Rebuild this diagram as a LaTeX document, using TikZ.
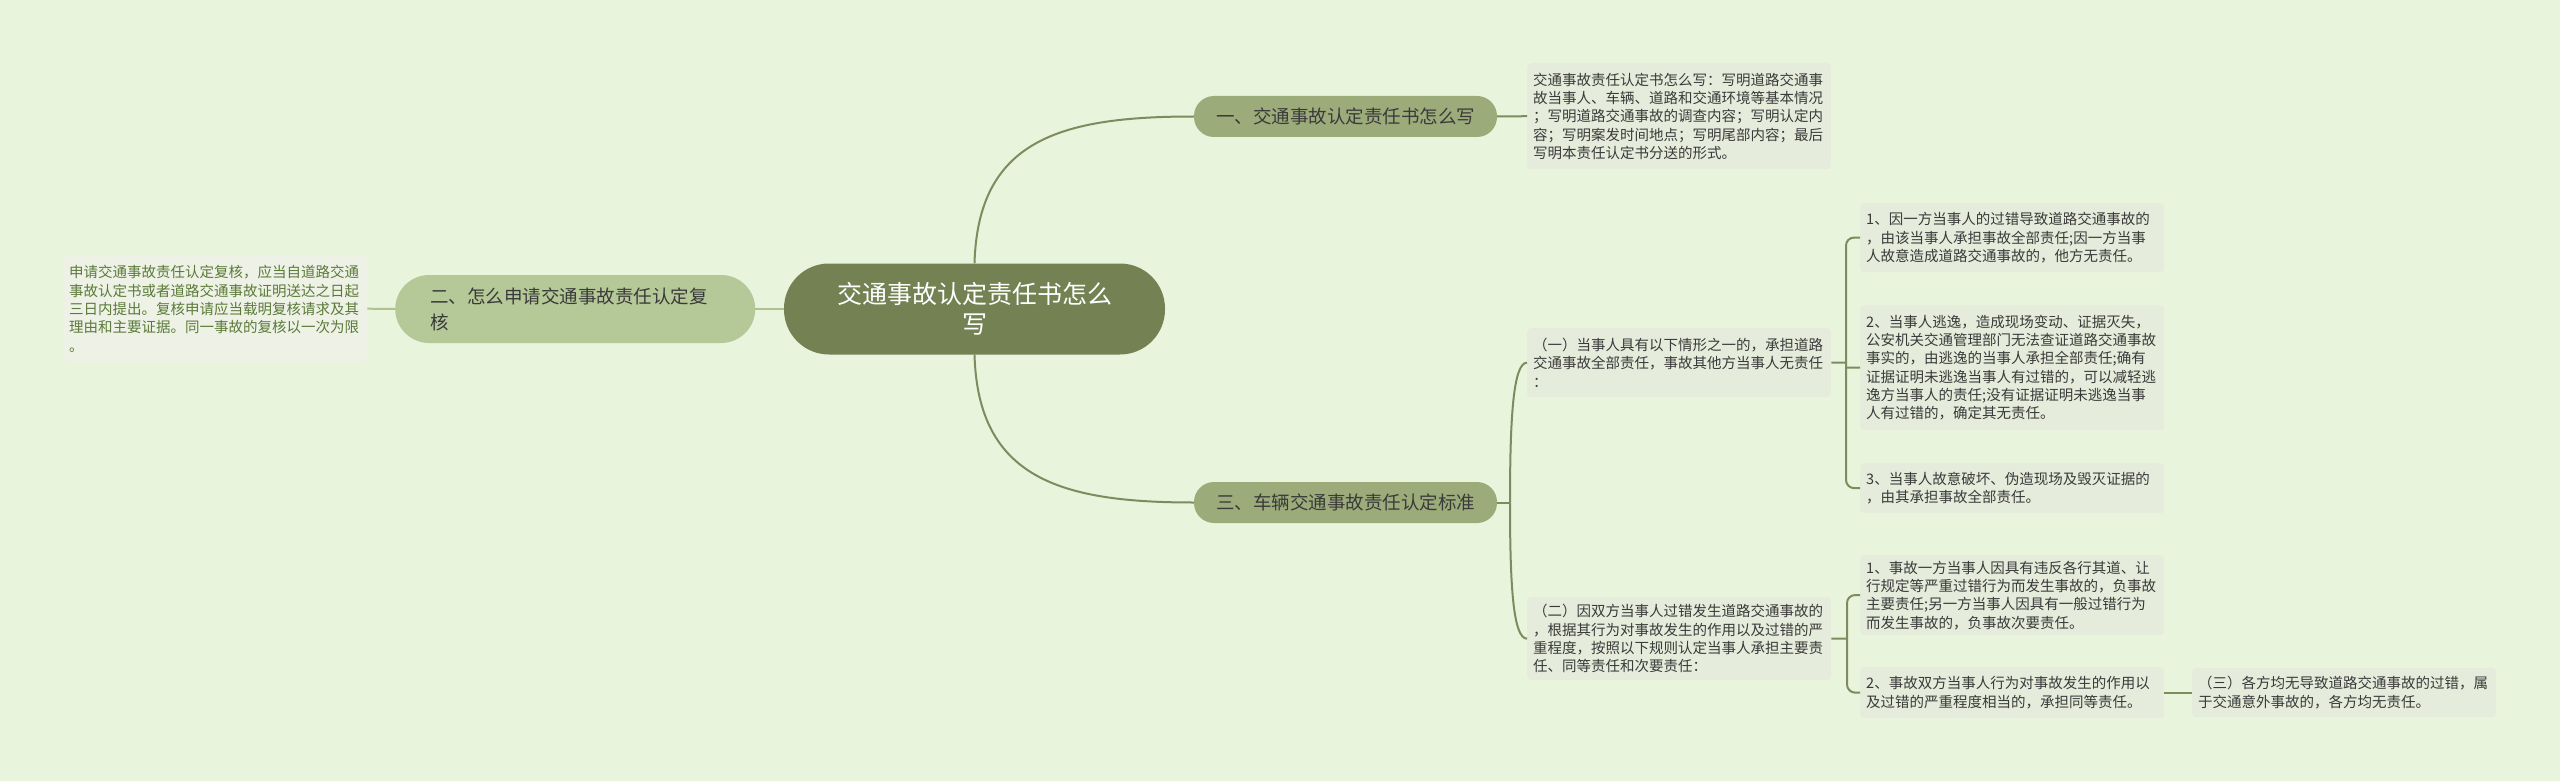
\documentclass[tikz,border=0pt]{standalone}
\usepackage{fontspec}
\newfontfamily\cjk{Noto Sans CJK SC}
\definecolor{bgc}{HTML}{E9F4DD}
\definecolor{centc}{HTML}{738153}
\definecolor{brc}{HTML}{9CAB7A}
\definecolor{brlc}{HTML}{B5C898}
\definecolor{leafc}{HTML}{E6ECDB}
\definecolor{leaflc}{HTML}{EEF2E6}
\definecolor{linec}{HTML}{7D8C5F}
\definecolor{linelc}{HTML}{AFC292}
\definecolor{txtc}{HTML}{3A3A3A}
\definecolor{txtg}{HTML}{5B7A38}
\tikzset{
  leafbox/.style={fill=leafc, rounded corners=4pt, inner xsep=6pt, inner ysep=0pt,
    align=left, text width=292pt, text=txtc, anchor=north west,
    font=\cjk\fontsize{14.5}{18.3}\selectfont},
  branchbox/.style={fill=brc, rounded corners=20pt, inner sep=0pt, minimum width=303pt,
    minimum height=41pt, text=txtc, align=center, font=\cjk\fontsize{18.5}{24}\selectfont},
  rline/.style={draw=linec, line width=2pt},
  lline/.style={draw=linelc, line width=2pt}
}
\begin{document}
\begin{tikzpicture}[x=1pt,y=-1pt]
\fill[bgc] (0,0) rectangle (2560,781);
\useasboundingbox (0,0) rectangle (2560,781);

% central
\node[fill=centc, rounded corners=45pt, minimum width=381pt, minimum height=91pt, inner sep=0pt,
  text=white, align=center, font=\cjk\fontsize{25}{30}\selectfont] (c) at (974.5,309)
  {交通事故认定责任书怎么\\写};

% branches
\node[branchbox] (b1) at (1345.5,116.5) {一、交通事故认定责任书怎么写};
\node[branchbox] (b3) at (1345.5,502.5) {三、车辆交通事故责任认定标准};
\node[fill=brlc, rounded corners=34pt, inner xsep=35pt, inner ysep=0pt, minimum height=68pt,
  text width=290pt, align=left, text=txtc, font=\cjk\fontsize{18.5}{26}\selectfont,
  anchor=west] (b2) at (395,309) {二、怎么申请交通事故责任认定复\\核};

% leaves
\node[leafbox, minimum height=106pt] (L0) at (1527,63)
 {交通事故责任认定书怎么写：写明道路交通事\\故当事人、车辆、道路和交通环境等基本情况\\；写明道路交通事故的调查内容；写明认定内\\容；写明案发时间地点；写明尾部内容；最后\\写明本责任认定书分送的形式。};

\node[leafbox, fill=leaflc, text=txtg, minimum height=107pt] (LL) at (63,255)
 {申请交通事故责任认定复核，应当自道路交通\\事故认定书或者道路交通事故证明送达之日起\\三日内提出。复核申请应当载明复核请求及其\\理由和主要证据。同一事故的复核以一次为限\\。};

\node[leafbox, minimum height=69pt] (s1) at (1527,328)
 {（一）当事人具有以下情形之一的，承担道路\\交通事故全部责任，事故其他方当事人无责任\\：};
\node[leafbox, minimum height=83pt] (s2) at (1527,597)
 {（二）因双方当事人过错发生道路交通事故的\\，根据其行为对事故发生的作用以及过错的严\\重程度，按照以下规则认定当事人承担主要责\\任、同等责任和次要责任：};

\node[leafbox, minimum height=69pt] (l1) at (1860,203)
 {1、因一方当事人的过错导致道路交通事故的\\，由该当事人承担事故全部责任;因一方当事\\人故意造成道路交通事故的，他方无责任。};
\node[leafbox, minimum height=125pt] (l2) at (1860,305)
 {2、当事人逃逸，造成现场变动、证据灭失，\\公安机关交通管理部门无法查证道路交通事故\\事实的，由逃逸的当事人承担全部责任;确有\\证据证明未逃逸当事人有过错的，可以减轻逃\\逸方当事人的责任;没有证据证明未逃逸当事\\人有过错的，确定其无责任。};
\node[leafbox, minimum height=50pt] (l3) at (1860,463)
 {3、当事人故意破坏、伪造现场及毁灭证据的\\，由其承担事故全部责任。};
\node[leafbox, minimum height=80pt] (l4) at (1860,555)
 {1、事故一方当事人因具有违反各行其道、让\\行规定等严重过错行为而发生事故的，负事故\\主要责任;另一方当事人因具有一般过错行为\\而发生事故的，负事故次要责任。};
\node[leafbox, minimum height=51pt] (l5) at (1860,667)
 {2、事故双方当事人行为对事故发生的作用以\\及过错的严重程度相当的，承担同等责任。};
\node[leafbox, minimum height=49pt] (l6) at (2192,668)
 {（三）各方均无导致道路交通事故的过错，属\\于交通意外事故的，各方均无责任。};

% connectors
\draw[rline] (c.north) .. controls (978,140) and (1060,116.5) .. (b1.west);
\draw[rline] (c.south) .. controls (978,478) and (1060,502.5) .. (b3.west);
\draw[lline] (c.west) -- (b2.east);
\draw[lline] (b2.west) -- (LL.east);
\draw[rline] (b1.east) -- (L0.west);

\coordinate (k3) at (1510,502.5);
\draw[rline] (b3.east) -- (k3);
\draw[rline] (k3) .. controls (1510,420) and (1513,362.5) .. (s1.west);
\draw[rline] (k3) .. controls (1510,585) and (1513,638.5) .. (s2.west);

\coordinate (j1) at (1846,362.5);
\draw[rline, rounded corners=8pt] (l1.west) -- (1846,237.5) -- (1846,488) -- (l3.west);
\draw[rline] (s1.east) -- (j1);
\draw[rline] (1846,367.5) -- (l2.west);

\coordinate (j2) at (1847,638.5);
\draw[rline, rounded corners=8pt] (l4.west) -- (1847,595) -- (1847,692.5) -- (l5.west);
\draw[rline] (s2.east) -- (j2);
\draw[rline] (l5.east) -- (l6.west);
\end{tikzpicture}
\end{document}
